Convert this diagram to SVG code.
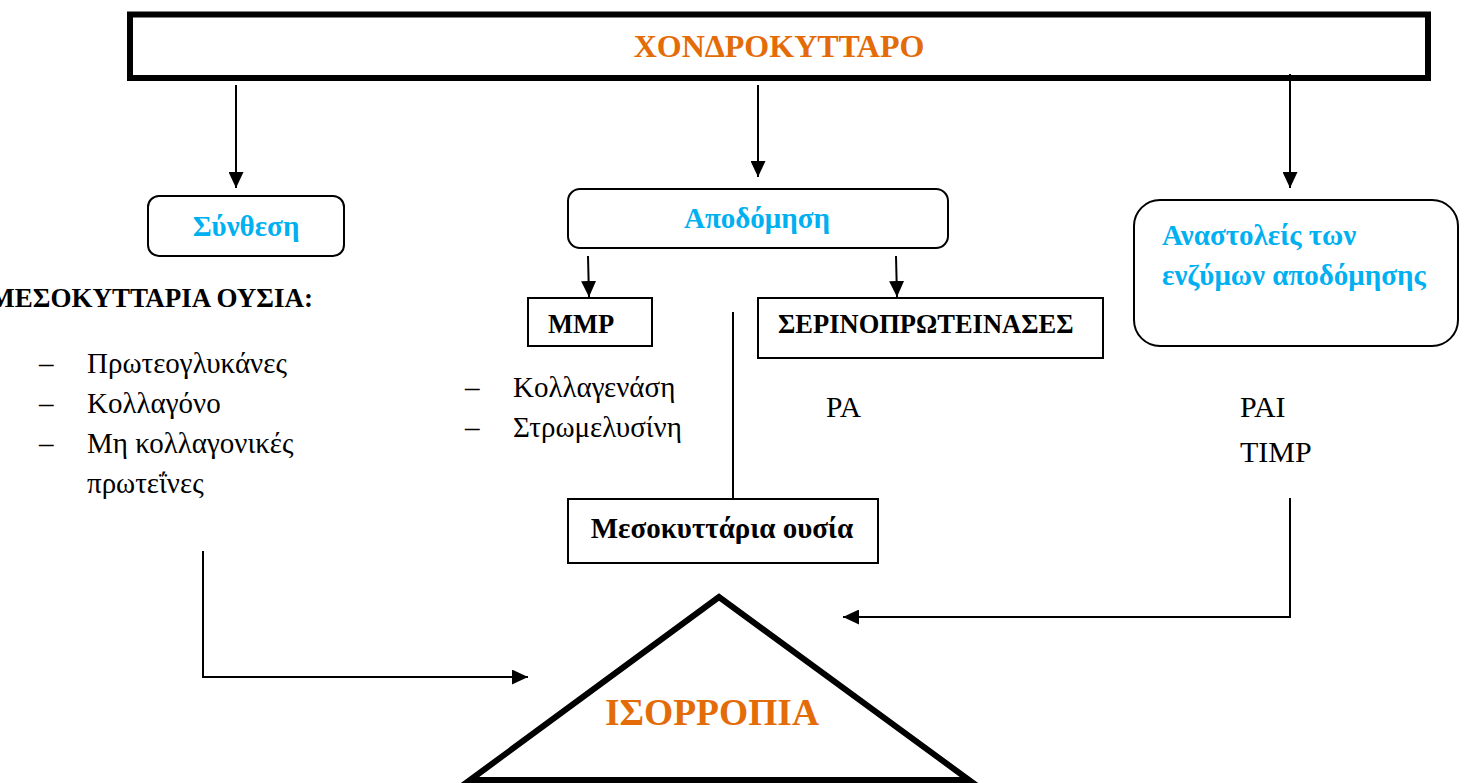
<svg xmlns="http://www.w3.org/2000/svg" width="1464" height="783" viewBox="0 0 1464 783">
<style>
.t{font-family:"Liberation Serif","DejaVu Serif","Times New Roman",serif;fill:#000}
.b{font-weight:bold}
.cy{fill:#00B0F0;font-weight:bold}
.or{fill:#E36C09;font-weight:bold}
.box{fill:#fff;stroke:#000;stroke-width:2}
.ln{fill:none;stroke:#000;stroke-width:2}
</style>
<defs>
<marker id="ah" viewBox="0 0 16 15" refX="16" refY="7.5" markerWidth="16" markerHeight="15" markerUnits="userSpaceOnUse" orient="auto">
<path d="M0,0 L16,7.5 L0,15 z" fill="#000"/>
</marker>
</defs>
<rect width="1464" height="783" fill="#fff"/>
<g id="connectors">
<line class="ln" x1="236" y1="85" x2="236" y2="188" marker-end="url(#ah)"/>
<line class="ln" x1="758" y1="85" x2="758" y2="177" marker-end="url(#ah)"/>
<line class="ln" x1="1290" y1="74" x2="1290" y2="188" marker-end="url(#ah)"/>
<line class="ln" x1="588" y1="256" x2="589" y2="297" marker-end="url(#ah)"/>
<line class="ln" x1="896" y1="256" x2="897" y2="297" marker-end="url(#ah)"/>
<line class="ln" x1="733" y1="312" x2="733" y2="499"/>
<polyline class="ln" points="1290,498 1290,617 843,617" marker-end="url(#ah)"/>
<polyline class="ln" points="203,551 203,677 528,677" marker-end="url(#ah)"/>
</g>
<g id="chondrocyte">
<rect x="130" y="14.5" width="1298" height="63.5" fill="none" stroke="#000" stroke-width="6"/>
<text class="t or" x="779" y="57" font-size="32" text-anchor="middle">ΧΟΝΔΡΟΚΥΤΤΑΡΟ</text>
</g>
<g id="synthesis">
<rect class="box" x="148" y="196" width="196" height="60" rx="11"/>
<text class="t cy" x="246" y="236" font-size="29" text-anchor="middle">Σύνθεση</text>
</g>
<g id="degradation">
<rect class="box" x="568" y="189" width="380" height="59" rx="12"/>
<text class="t cy" x="757" y="228" font-size="29" text-anchor="middle">Αποδόμηση</text>
</g>
<g id="inhibitors">
<rect class="box" x="1134" y="200" width="324" height="146" rx="26"/>
<text class="t cy" x="1162" y="245" font-size="29">Αναστολείς των</text>
<text class="t cy" x="1162" y="285" font-size="29">ενζύμων αποδόμησης</text>
</g>
<g id="ecm-list">
<text class="t b" x="313" y="307" font-size="27" text-anchor="end">ΜΕΣΟΚΥΤΤΑΡΙΑ ΟΥΣΙΑ:</text>
<text class="t" x="39" y="373" font-size="29">–</text>
<text class="t" x="87" y="373" font-size="29">Πρωτεογλυκάνες</text>
<text class="t" x="39" y="413" font-size="29">–</text>
<text class="t" x="87" y="413" font-size="29">Κολλαγόνο</text>
<text class="t" x="39" y="453" font-size="29">–</text>
<text class="t" x="87" y="453" font-size="29">Μη κολλαγονικές</text>
<text class="t" x="87" y="493" font-size="29">πρωτεΐνες</text>
</g>
<g id="mmp">
<rect class="box" x="528" y="298" width="124" height="48"/>
<text class="t b" x="548" y="333" font-size="26.5">MMP</text>
<text class="t" x="465" y="397" font-size="29">–</text>
<text class="t" x="513" y="397" font-size="29">Κολλαγενάση</text>
<text class="t" x="465" y="437" font-size="29">–</text>
<text class="t" x="513" y="437" font-size="29">Στρωμελυσίνη</text>
</g>
<g id="serine">
<rect class="box" x="758" y="298" width="345" height="60"/>
<text class="t b" x="778" y="333" font-size="26.5">ΣΕΡΙΝΟΠΡΩΤΕΙΝΑΣΕΣ</text>
<text class="t" x="826" y="417" font-size="29.5">PA</text>
</g>
<g id="inhibitor-list">
<text class="t" x="1240" y="417" font-size="30">PAI</text>
<text class="t" x="1240" y="462" font-size="30">TIMP</text>
</g>
<g id="ecm">
<rect class="box" x="568" y="499" width="310" height="64"/>
<text class="t b" x="722" y="538" font-size="29" text-anchor="middle">Μεσοκυττάρια ουσία</text>
</g>
<g id="balance">
<polygon points="719,597 470,780 969,780" fill="none" stroke="#000" stroke-width="6" stroke-linejoin="miter"/>
<text class="t or" x="712" y="725" font-size="37.5" text-anchor="middle">ΙΣΟΡΡΟΠΙΑ</text>
</g>
</svg>
